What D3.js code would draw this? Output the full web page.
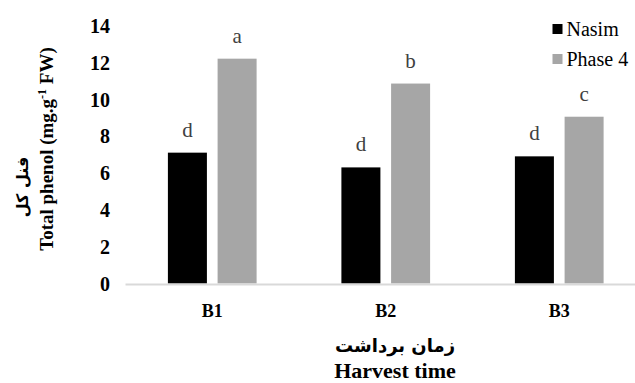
<!DOCTYPE html>
<html>
<head>
<meta charset="utf-8">
<script src="https://cdn.jsdelivr.net/npm/d3@7/dist/d3.min.js"></script>
<style>
  html, body { margin: 0; padding: 0; background: #fff; }
</style>
</head>
<body>
<svg id="chart" width="635" height="383"></svg>
<script>
// Harvest time categories and series
const categories = ["B1", "B2", "B3"];
const seriesNames = ["Nasim", "Phase 4"];
const nasim = [7.1, 6.3, 6.9];
const phase4 = [12.2, 10.85, 9.05];
const nasimLetters = ["d", "d", "d"];
const phase4Letters = ["a", "b", "c"];
const yTicks = [0, 2, 4, 6, 8, 10, 12, 14];
const colors = ["#000000", "#a6a6a6"];

const SERIF = "'Liberation Serif', 'Times New Roman', serif";
const PERSIAN = "'DejaVu Sans', 'Noto Sans', sans-serif";

const svg = d3.select("#chart");

const y = d3.scaleLinear().domain([0, 14]).range([283.5, 25.5]);
const x = d3.scaleBand().domain(categories).range([125.5, 646]).padding(0);
const groupW = 88.7;
const xs = d3.scaleBand().domain(seriesNames)
  .range([x.bandwidth() / 2 - groupW / 2, x.bandwidth() / 2 + groupW / 2])
  .paddingInner(0.215).paddingOuter(0);

const rows = categories.map((c, i) => ({
  cat: c,
  vals: [
    { s: seriesNames[0], v: nasim[i], l: nasimLetters[i], c: colors[0] },
    { s: seriesNames[1], v: phase4[i], l: phase4Letters[i], c: colors[1] }
  ]
}));

// Bars
const grp = svg.append("g").selectAll("g.cat").data(rows).join("g")
  .attr("class", "cat")
  .attr("transform", d => `translate(${x(d.cat)},0)`);

grp.selectAll("rect").data(d => d.vals).join("rect")
  .attr("x", d => xs(d.s))
  .attr("y", d => y(d.v))
  .attr("width", xs.bandwidth())
  .attr("height", d => y(0) - y(d.v))
  .attr("fill", d => d.c);

// Significance letters
grp.selectAll("text.sig").data(d => d.vals).join("text")
  .attr("class", "sig")
  .attr("x", d => xs(d.s) + xs.bandwidth() / 2)
  .attr("y", d => y(d.v) - 16)
  .attr("text-anchor", "middle")
  .style("font-family", SERIF)
  .style("font-size", "21px")
  .attr("fill", "#404040")
  .text(d => d.l);

// Baseline
svg.append("line")
  .attr("x1", 125.5).attr("x2", 646)
  .attr("y1", y(0) + 1).attr("y2", y(0) + 1)
  .attr("stroke", "#d9d9d9").attr("stroke-width", 2);

// Y axis tick labels
const yAxis = d3.axisLeft(y).tickValues(yTicks).tickSize(0).tickPadding(0);
const ya = svg.append("g").attr("transform", "translate(110,0)").call(yAxis);
ya.select(".domain").remove();
ya.selectAll("text")
  .style("font-family", SERIF)
  .style("font-size", "20px").style("font-weight", "bold").attr("fill", "#000")
  .attr("dy", "0.34em");

// X axis category labels
const xAxis = d3.axisBottom(x).tickSize(0).tickPadding(0);
const xa = svg.append("g").attr("transform", "translate(0,304)").call(xAxis);
xa.select(".domain").remove();
xa.selectAll("text")
  .style("font-family", SERIF)
  .style("font-size", "18px").style("font-weight", "bold").attr("fill", "#000")
  .attr("dy", "0.72em");

// X axis titles
svg.append("text")
  .attr("x", 395).attr("y", 352)
  .attr("text-anchor", "middle")
  .style("font-family", PERSIAN).style("font-size", "18px").style("font-weight", "bold")
  .attr("direction", "rtl")
  .text("زمان برداشت");
svg.append("text")
  .attr("x", 395).attr("y", 378)
  .attr("text-anchor", "middle")
  .style("font-family", SERIF).style("font-size", "22px").style("font-weight", "bold")
  .text("Harvest time");

// Y axis titles
const yt = svg.append("text")
  .attr("transform", "translate(53,149) rotate(-90)")
  .attr("text-anchor", "middle")
  .style("font-family", SERIF).style("font-size", "19px").style("font-weight", "bold");
yt.append("tspan").text("Total phenol (mg.g");
yt.append("tspan").style("font-size", "12px").attr("dy", -7).text("-1");
yt.append("tspan").attr("dy", 7).text(" FW)");

svg.append("text")
  .attr("transform", "translate(28,187) rotate(-90)")
  .attr("text-anchor", "middle")
  .style("font-family", PERSIAN).style("font-size", "16px").style("font-weight", "bold")
  .attr("direction", "rtl")
  .text("فنل کل");

// Legend
const leg = svg.append("g").attr("transform", "translate(552.5,0)");
const li = leg.selectAll("g").data(seriesNames).join("g")
  .attr("transform", (d, i) => `translate(0,${29 + i * 30})`);
li.append("rect").attr("x", 0).attr("y", -5).attr("width", 10).attr("height", 10)
  .attr("fill", (d, i) => colors[i]);
li.append("text").attr("x", 14).attr("y", 0).attr("dy", "0.35em")
  .style("font-family", SERIF).style("font-size", "20px").attr("fill", "#000")
  .text(d => d);
</script>
</body>
</html>
